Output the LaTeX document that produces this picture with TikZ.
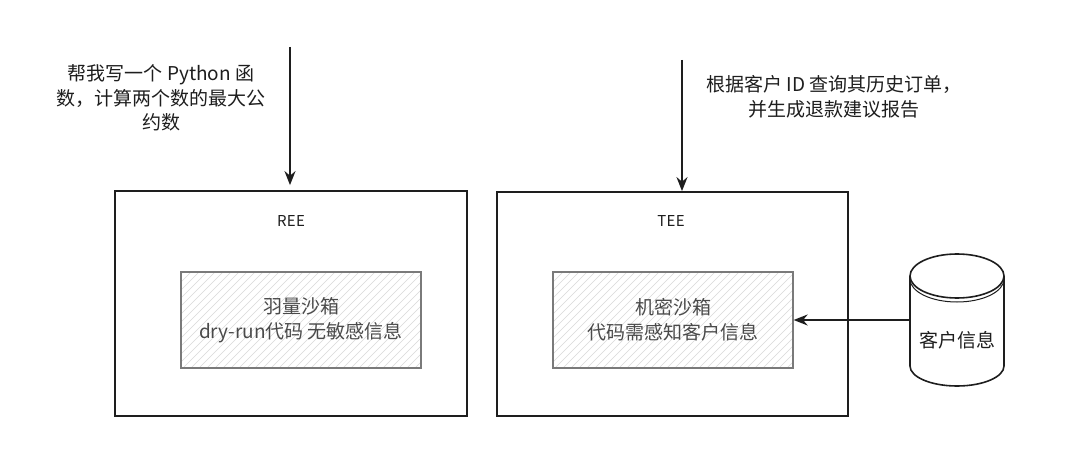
\documentclass[tikz,border=0pt]{standalone}
\usepackage{fontspec}
\setmainfont{Noto Sans CJK SC}
\usetikzlibrary{arrows.meta}
\definecolor{ink}{HTML}{1E1E1E}
\definecolor{softink}{HTML}{4A4A4A}
\definecolor{boxgray}{HTML}{7A7A7A}
\definecolor{hatch}{HTML}{D8D8D8}
\tikzset{
  outerbox/.style={draw=ink, line width=1.8pt, minimum width=352pt, minimum height=225pt, inner sep=0pt},
  innerbox/.style={draw=boxgray, line width=1.3pt, minimum width=240pt, minimum height=96pt, inner sep=0pt},
  lbl/.style={text=ink, font=\fontsize{19}{24.5}\selectfont, align=center, inner sep=0pt},
  intext/.style={text=softink, font=\fontsize{19}{25}\selectfont, align=center, inner sep=0pt},
  envtag/.style={text=ink, font=\fontsize{15}{17}\selectfont\addfontfeatures{LetterSpace=2}, inner sep=0pt},
  arr/.style={draw=ink, line width=1.8pt, -{Stealth[length=14pt,width=11pt]}},
}
\begin{document}
\begin{tikzpicture}[x=1pt,y=-1pt]
\useasboundingbox (0,0) rectangle (1080,460);
\fill[white] (0,0) rectangle (1080,460);

% outer boxes
\node[outerbox] (ree) at (291,303.5) {};
\node[outerbox, minimum width=351pt, minimum height=224pt] (tee) at (672.5,304) {};
\node[envtag] (reetag) at (291,221) {REE};
\node[envtag] (teetag) at (671,221) {TEE};

% inner boxes with hachure
\node[innerbox] (reein) at (301,320) {};
\node[innerbox] (teein) at (673,320) {};
\begin{scope}
  \clip (reein.south west) rectangle (reein.north east);
  \foreach \k in {0,8,...,360} {
    \draw[hatch, line width=0.6pt] (181-110+\k,368) -- (181+\k,258);
  }
\end{scope}
\begin{scope}
  \clip (teein.south west) rectangle (teein.north east);
  \foreach \k in {0,8,...,360} {
    \draw[hatch, line width=0.6pt] (553-110+\k,368) -- (553+\k,258);
  }
\end{scope}
\node[innerbox] at (reein) {};
\node[innerbox] at (teein) {};
\node[intext] (reetxt) at (301,320) {羽量沙箱\\dry-run代码 无敏感信息};
\node[intext] (teetxt) at (673,320) {机密沙箱\\代码需感知客户信息};

% database cylinder
\node[minimum width=94pt, minimum height=132pt, inner sep=0pt] (db) at (957,320) {};
\draw[ink, line width=1.6pt] (910,276) -- (910,366) arc[start angle=180, end angle=360, x radius=47pt, y radius=20pt] -- (1004,276);
\draw[ink, line width=1.6pt] (957,276) ellipse[x radius=47pt, y radius=22pt];
\draw[ink, line width=1.0pt] (910,279) arc[start angle=180, end angle=360, x radius=47pt, y radius=23pt];
\node[lbl] (dbtxt) at (957,340) {客户信息};

% prompts
\node[lbl] (promptL) at (161,98) {帮我写一个 Python 函\\数，计算两个数的最大公\\约数};
\node[lbl] (promptR) at (834,97) {根据客户 ID 查询其历史订单，\\并生成退款建议报告};

% arrows
\coordinate (inL) at (290,47);
\coordinate (inR) at (682,60);
\draw[arr, shorten >=5pt] (inL) -- (inL |- ree.north);
\draw[arr] (inR) -- (inR |- tee.north);
\draw[arr] (db.west) -- (teein.east);
\end{tikzpicture}
\end{document}
